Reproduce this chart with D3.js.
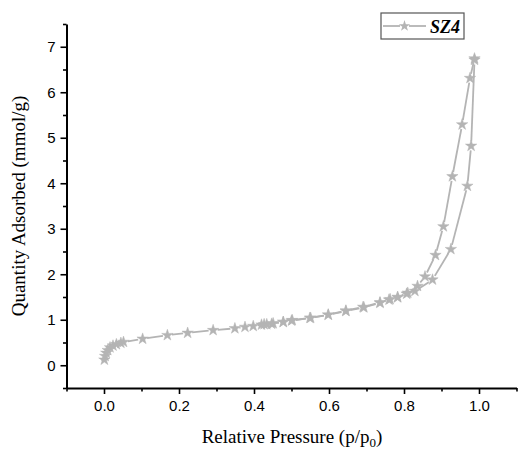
<!DOCTYPE html>
<html><head><meta charset="utf-8">
<script src="https://cdn.jsdelivr.net/npm/d3@7"></script>
<style>body{margin:0;background:#fff}</style>
</head><body>
<svg id="c" width="520" height="450"></svg>
<script>
const seriesName = "SZ4";
const adsP = [0.001,0.003,0.006,0.010,0.016,0.024,0.033,0.045,0.052,0.103,0.169,0.223,0.291,0.349,0.376,0.398,0.427,0.447,0.478,0.500,0.549,0.598,0.645,0.693,0.736,0.760,0.783,0.807,0.829,0.876,0.925,0.969,0.979,0.988];
const adsQ = [0.12,0.20,0.27,0.33,0.39,0.43,0.46,0.49,0.51,0.58,0.66,0.71,0.77,0.81,0.84,0.86,0.90,0.91,0.95,0.98,1.04,1.11,1.19,1.27,1.37,1.44,1.49,1.57,1.63,1.88,2.55,3.94,4.82,6.71];
const desP = [0.988,0.976,0.955,0.929,0.905,0.884,0.856,0.836,0.810,0.783,0.763,0.736,0.691,0.645,0.598,0.551,0.502,0.478,0.451,0.434,0.420];
const desQ = [6.74,6.31,5.29,4.15,3.05,2.42,1.95,1.74,1.59,1.50,1.45,1.38,1.28,1.20,1.11,1.04,0.99,0.95,0.92,0.90,0.89];
const xMajor = [0.0,0.2,0.4,0.6,0.8,1.0];
const xMinor = [-0.1,0.1,0.3,0.5,0.7,0.9,1.1];
const yMajor = [0,1,2,3,4,5,6,7];
const yMinor = [-0.5,0.5,1.5,2.5,3.5,4.5,5.5,6.5,7.5];

const svg = d3.select("#c");
const x = d3.scaleLinear().domain([-0.1,1.1]).range([66.5,516.5]);
const y = d3.scaleLinear().domain([-0.5,7.5]).range([388,24]);
const grey = "#b4b4b4";

// minor ticks
svg.append("g").attr("transform","translate(0,388)")
  .call(d3.axisBottom(x).tickValues(xMinor).tickSize(3.5).tickFormat(""))
  .call(g=>g.select(".domain").remove())
  .selectAll("line").attr("stroke","#000").attr("stroke-width",1.6);
svg.append("g").attr("transform","translate(66.5,0)")
  .call(d3.axisLeft(y).tickValues(yMinor).tickSize(3.5).tickFormat(""))
  .call(g=>g.select(".domain").remove())
  .selectAll("line").attr("stroke","#000").attr("stroke-width",1.6);
// major axes
const xa = svg.append("g").attr("transform","translate(0,388)")
  .call(d3.axisBottom(x).tickValues(xMajor).tickSize(6).tickSizeOuter(0).tickPadding(6).tickFormat(d3.format(".1f")));
const ya = svg.append("g").attr("transform","translate(66.5,0)")
  .call(d3.axisLeft(y).tickValues(yMajor).tickSize(6).tickSizeOuter(0).tickPadding(5).tickFormat(d3.format("d")));
[xa,ya].forEach(a=>{
  a.select(".domain").attr("stroke","#000").attr("stroke-width",2);
  a.selectAll(".tick line").attr("stroke","#000").attr("stroke-width",1.6);
  a.selectAll("text").attr("font-family","Liberation Sans, Arial, sans-serif").attr("font-size",15).attr("fill","#000");
});

// series with gapped lines
function drawSeries(P,Q){
  const pts = P.map((p,i)=>[x(p),y(Q[i])]);
  const gap = 4.5;
  const g = svg.append("g");
  for(let i=0;i<pts.length-1;i++){
    const [x1,y1]=pts[i],[x2,y2]=pts[i+1];
    const L=Math.hypot(x2-x1,y2-y1);
    if(L<=2*gap+1) continue;
    const ux=(x2-x1)/L, uy=(y2-y1)/L;
    g.append("line").attr("x1",x1+ux*gap).attr("y1",y1+uy*gap)
      .attr("x2",x2-ux*gap).attr("y2",y2-uy*gap)
      .attr("stroke",grey).attr("stroke-width",1.8);
  }
  g.selectAll("path.s").data(pts).enter().append("path")
    .attr("d",d3.symbol(d3.symbolStar,40)())
    .attr("transform",d=>`translate(${d[0]},${d[1]})`)
    .attr("fill",grey).attr("stroke",grey).attr("stroke-width",0.5);
}
drawSeries(adsP,adsQ);
drawSeries(desP,desQ);

// axis titles
svg.append("text").attr("x",292).attr("y",443).attr("text-anchor","middle")
  .attr("font-family","Liberation Serif, Times New Roman, serif").attr("font-size",19)
  .html('Relative Pressure (p/p<tspan dy="4" font-size="13">0</tspan><tspan dy="-4">)</tspan>');
svg.append("text").attr("transform","translate(25,206) rotate(-90)").attr("text-anchor","middle")
  .attr("font-family","Liberation Serif, Times New Roman, serif").attr("font-size",19)
  .text("Quantity Adsorbed (mmol/g)");

// legend
const lg = svg.append("g");
lg.append("rect").attr("x",381).attr("y",13).attr("width",83).attr("height",26)
  .attr("fill","#fff").attr("stroke","#555").attr("stroke-width",1.2);
lg.append("line").attr("x1",383).attr("x2",400).attr("y1",26).attr("y2",26).attr("stroke",grey).attr("stroke-width",1.8);
lg.append("line").attr("x1",409).attr("x2",426).attr("y1",26).attr("y2",26).attr("stroke",grey).attr("stroke-width",1.8);
lg.append("path").attr("d",d3.symbol(d3.symbolStar,40)()).attr("transform","translate(404.5,26)").attr("fill",grey);
lg.append("text").attr("x",430).attr("y",33).attr("font-family","Liberation Serif, Times New Roman, serif")
  .attr("font-size",18).attr("font-weight","bold").attr("font-style","italic").text(seriesName);
</script>
</body></html>
